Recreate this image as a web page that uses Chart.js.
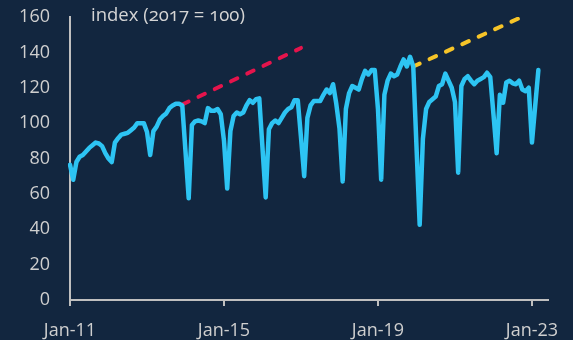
<!DOCTYPE html>
<html><head><meta charset="utf-8">
<script src="https://cdn.jsdelivr.net/npm/chart.js@4/dist/chart.umd.min.js"></script>
<style>
html,body{margin:0;padding:0;background:#12263f;}
#wrap{position:relative;width:573px;height:340px;overflow:hidden;}
#note{position:absolute;left:91px;top:2px;font-family:"Open Sans",sans-serif;font-size:18.5px;color:#d4d4d4;font-variant-numeric:oldstyle-nums;font-feature-settings:"onum" 1;white-space:nowrap;line-height:24px;}
</style></head><body>
<div id="wrap"><canvas id="c" width="573" height="340"></canvas><div id="note">index (2017 = 100)</div></div>
<script>
// Categories: monthly, Jan-11 .. Jun-23
const monthNames = ['Jan','Feb','Mar','Apr','May','Jun','Jul','Aug','Sep','Oct','Nov','Dec'];
const categories = [];
for (let yr = 11; yr <= 23; yr++) {
  for (let mo = 0; mo < 12; mo++) {
    if (yr === 23 && mo > 5) break;
    categories.push(monthNames[mo] + '-' + yr);
  }
}
const tickLabels = ['Jan-11', 'Jan-15', 'Jan-19', 'Jan-23'];
const yTicks = [0, 20, 40, 60, 80, 100, 120, 140, 160];

// Index values (2017 = 100), by year
const y2011 = [76.5, 68, 78, 81, 82, 84, 86, 87.5, 89, 88.5, 87, 83];
const y2012 = [80, 78, 89, 91.5, 93.5, 94, 94.5, 96, 97.5, 100, 100, 100];
const y2013 = [95, 82, 95.5, 98, 102, 104, 105.5, 108.5, 110, 111, 111, 110];
const y2014 = [84, 57.5, 99, 101, 101.5, 101, 100, 108.5, 107, 107, 108, 105];
const y2015 = [90, 63, 95.5, 104, 106, 105, 106, 110, 113, 111.5, 113.5, 114];
const y2016 = [86, 58, 96.5, 100, 101.5, 100, 103, 106, 108, 109, 113, 113];
const y2017 = [92, 70, 103, 110, 112.5, 112.5, 112.5, 116, 119, 117, 122, 111];
const y2018 = [97, 67, 108, 117, 121, 120, 119, 125, 129.5, 127.5, 130, 130];
const y2019 = [108, 68, 116, 124, 128, 126.5, 127.5, 132, 136, 132, 137.5, 132];
const y2020 = [87, 42.5, 91, 108, 112, 113.5, 115, 121, 122, 128, 124, 120];
const y2021 = [112, 72, 121, 125, 126.5, 124, 122, 124, 125, 126, 128.5, 126];
const y2022 = [105, 83, 116, 111.5, 123, 124, 122.5, 122, 124, 119, 118, 120];
const y2023 = [89, 109.5, 130];

// Pre-shock trend lines (start / end)
const trendRedMonths = ['Dec-13', 'Jan-17'];
const trendRedValues = [110.5, 142.5];
const trendYellowMonths = ['Dec-19', 'Nov-22'];
const trendYellowValues = [132, 161];

const series = [].concat(y2011, y2012, y2013, y2014, y2015, y2016, y2017, y2018, y2019, y2020, y2021, y2022, y2023);
const blueData = categories.map((c, i) => i < series.length ? series[i] : null);
function trendData(months, values) {
  return categories.map(c => { const k = months.indexOf(c); return k >= 0 ? values[k] : null; });
}

const axisColor = '#bfbfbf';
const labelColor = '#cfcfcf';
const font = {family: "'Open Sans', sans-serif", size: 18};

new Chart(document.getElementById('c'), {
  type: 'line',
  data: {
    labels: categories,
    datasets: [
      {data: blueData, borderColor: '#2dc4f3', borderWidth: 4.5, pointRadius: 0, tension: 0,
       borderJoinStyle: 'round', borderCapStyle: 'round', spanGaps: false},
      {data: trendData(trendRedMonths, trendRedValues), borderColor: '#e5144c', borderWidth: 4,
       borderDash: [7, 11], borderCapStyle: 'round', pointRadius: 0, spanGaps: true},
      {data: trendData(trendYellowMonths, trendYellowValues), borderColor: '#f6c428', borderWidth: 4,
       borderDash: [7, 11], borderCapStyle: 'round', pointRadius: 0, spanGaps: true}
    ]
  },
  options: {
    responsive: false,
    animation: false,
    devicePixelRatio: 1,
    layout: {padding: {top: 17, right: 25, left: 0, bottom: 0}},
    plugins: {legend: {display: false}, tooltip: {enabled: false}, title: {display: false}},
    scales: {
      x: {
        type: 'category',
        offset: false,
        grid: {display: true, drawOnChartArea: false, drawTicks: true, tickLength: 6, color: axisColor, tickColor: axisColor, lineWidth: 2, tickWidth: 2},
        border: {display: true, color: axisColor, width: 2},
        ticks: {autoSkip: false, maxRotation: 0, minRotation: 0, color: labelColor, font: font, padding: 14},
        afterBuildTicks: (scale) => { scale.ticks = scale.ticks.filter(t => tickLabels.includes(categories[t.value])); },
        afterFit: (scale) => { scale.height = 40; }
      },
      y: {
        min: 0, max: 160,
        grid: {display: false, drawTicks: true, tickLength: 20},
        border: {display: true, color: axisColor, width: 2},
        ticks: {color: labelColor, font: font, padding: 0, stepSize: 20},
        afterBuildTicks: (scale) => { scale.ticks = yTicks.map(v => ({value: v})); },
        afterFit: (scale) => { scale.width = 70; }
      }
    }
  }
});
</script>
</body></html>
